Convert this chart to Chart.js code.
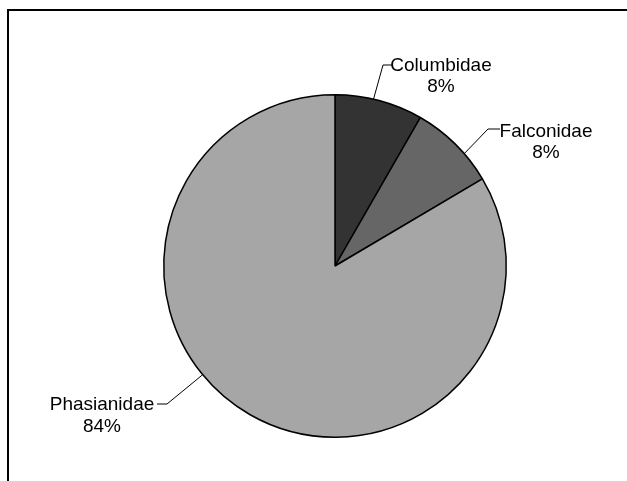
<!DOCTYPE html>
<html>
<head>
<meta charset="utf-8">
<script src="https://cdn.jsdelivr.net/npm/chart.js@4/dist/chart.umd.min.js"></script>
<style>
  html, body { margin: 0; padding: 0; background: #ffffff; }
  #wrap { position: relative; width: 627px; height: 481px; }
  canvas { display: block; }
</style>
</head>
<body>
<div id="wrap"><canvas id="c" width="627" height="481"></canvas></div>
<script>
// ---- data ----
const categories = ["Columbidae", "Falconidae", "Phasianidae"];
const shares = [8.3, 8.2, 83.5];
const percentLabels = ["8%", "8%", "84%"];

// ---- styles ----
const sliceColors = ["#333333", "#666666", "#a6a6a6"];
// label layout relative to pie centre (px) and anchor angle on rim (deg, clockwise from top)
const labelLayout = [
  { angle: 13,    elbow: [48, -201],  end: 57,   text: 106,  base: [-195, -174] },
  { angle: 49,    elbow: [153, -137], end: 165,  text: 211,  base: [-129, -108] },
  { angle: 230.6, elbow: [-168, 138], end: -178, text: -233, base: [144, 166] }
];

const framePlugin = {
  id: 'frame',
  beforeDraw(chart) {
    const ctx = chart.ctx;
    ctx.save();
    ctx.fillStyle = '#ffffff';
    ctx.fillRect(0, 0, chart.width, chart.height);
    ctx.fillStyle = '#000000';
    ctx.fillRect(7, 9, chart.width - 7, 2);
    ctx.fillRect(7, 9, 2, chart.height - 9);
    ctx.restore();
  }
};

const labelPlugin = {
  id: 'leaderLabels',
  afterDatasetsDraw(chart) {
    const ctx = chart.ctx;
    const meta = chart.getDatasetMeta(0);
    ctx.save();
    meta.data.forEach((arc, i) => {
      const L = labelLayout[i];
      const cx = arc.x, cy = arc.y, r = arc.outerRadius;
      const a = L.angle * Math.PI / 180;
      const ax = cx + r * Math.sin(a), ay = cy - r * Math.cos(a);
      ctx.strokeStyle = '#000000';
      ctx.lineWidth = 1;
      ctx.beginPath();
      ctx.moveTo(ax, ay);
      ctx.lineTo(cx + L.elbow[0], cy + L.elbow[1]);
      ctx.lineTo(cx + L.end, cy + L.elbow[1]);
      ctx.stroke();
      ctx.fillStyle = '#000000';
      ctx.font = '19px "Liberation Sans", Arial, sans-serif';
      ctx.textAlign = 'center';
      ctx.textBaseline = 'alphabetic';
      ctx.fillText(chart.data.labels[i], cx + L.text, cy + L.base[0]);
      ctx.fillText(percentLabels[i], cx + L.text, cy + L.base[1]);
    });
    ctx.restore();
  }
};

new Chart(document.getElementById('c'), {
  type: 'pie',
  data: {
    labels: categories,
    datasets: [{
      data: shares,
      backgroundColor: sliceColors,
      borderColor: '#000000',
      borderWidth: 1.5
    }]
  },
  options: {
    responsive: false,
    animation: false,
    devicePixelRatio: 1,
    layout: { padding: { left: 163, right: 120, top: 94, bottom: 43 } },
    plugins: {
      legend: { display: false },
      tooltip: { enabled: false }
    }
  },
  plugins: [framePlugin, labelPlugin]
});
</script>
</body>
</html>
